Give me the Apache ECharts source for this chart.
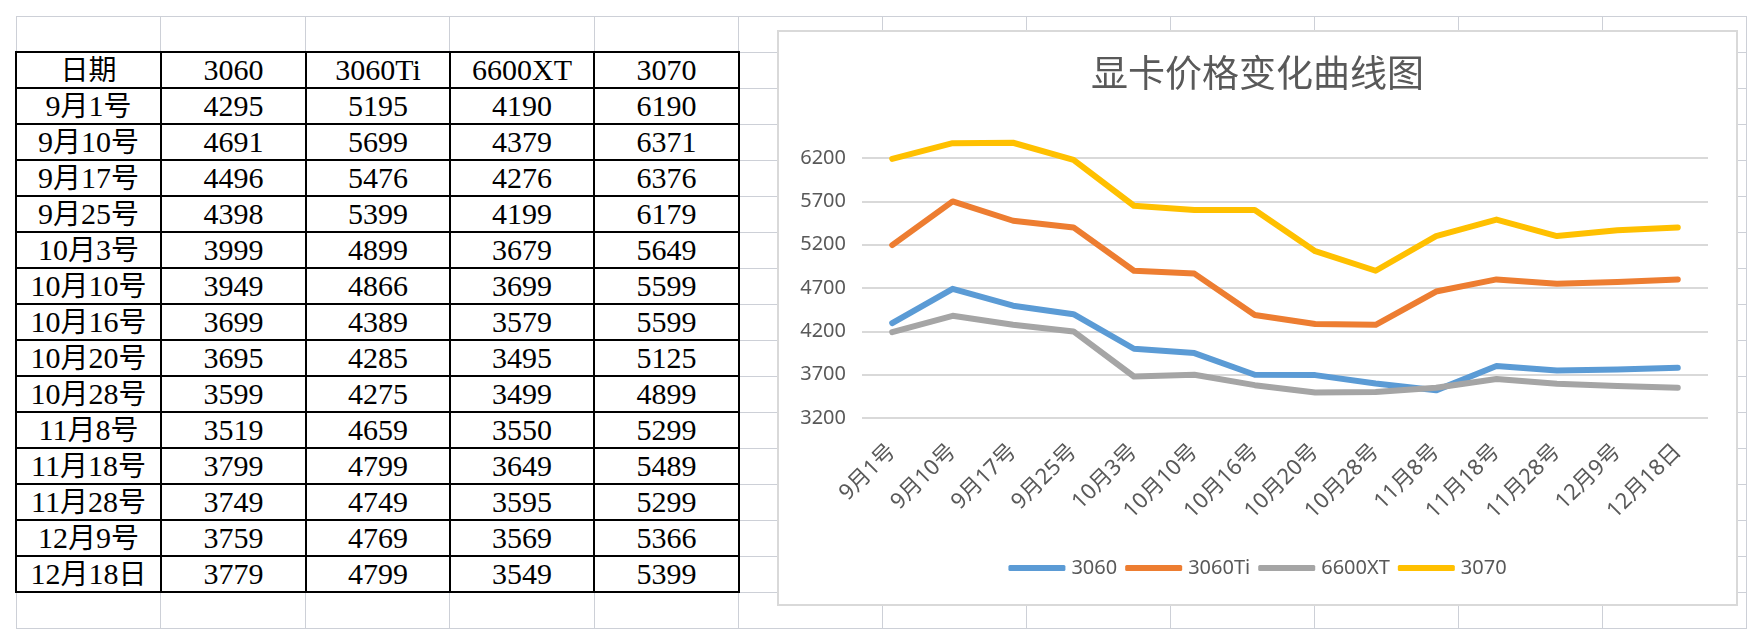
<!DOCTYPE html>
<html>
<head>
<meta charset="utf-8">
<title>显卡价格变化曲线图</title>
<script src="https://cdn.jsdelivr.net/npm/echarts@6/dist/echarts.min.js"></script>
<style>
    html, body { margin: 0; padding: 0; background: #fff; }
    body { width: 1762px; height: 644px; position: relative; overflow: hidden; }
    .gl { position: absolute; background: #cdd0d7; }
    #sheet { position: absolute; left: 15px; top: 51px; border-collapse: collapse; table-layout: fixed; background: #fff; }
    #sheet td { border: 2px solid #000; height: 34px; padding: 0; text-align: center; vertical-align: middle; }
    #sheet td div { height: 34px; line-height: 34px; overflow: hidden; white-space: nowrap; color: #000;
        font-family: "Liberation Serif", "Noto Sans CJK SC", serif; font-size: 30px; }
    #sheet td .cjk { font-family: "Noto Sans CJK SC"; font-size: 28px; line-height: 1; }
    #chart-box { position: absolute; left: 777px; top: 30px; width: 961px; height: 576px; box-sizing: border-box;
        border: 2px solid #d9d9d9; background: #fff; }
    #chart { position: absolute; left: 777px; top: 30px; width: 961px; height: 576px; }
</style>
</head>
<body>
<div id="grid-lines"></div>
<table id="sheet"></table>
<div id="chart-box"></div>
<div id="chart"></div>
<script>
// 表格/图表数据
var dates = ['9月1号', '9月10号', '9月17号', '9月25号', '10月3号', '10月10号', '10月16号', '10月20号', '10月28号', '11月8号', '11月18号', '11月28号', '12月9号', '12月18日'];
var names = ['3060', '3060Ti', '6600XT', '3070'];
var price3060 = [4295, 4691, 4496, 4398, 3999, 3949, 3699, 3695, 3599, 3519, 3799, 3749, 3759, 3779];
var price3060Ti = [5195, 5699, 5476, 5399, 4899, 4866, 4389, 4285, 4275, 4659, 4799, 4749, 4769, 4799];
var price6600XT = [4190, 4379, 4276, 4199, 3679, 3699, 3579, 3495, 3499, 3550, 3649, 3595, 3569, 3549];
var price3070 = [6190, 6371, 6376, 6179, 5649, 5599, 5599, 5125, 4899, 5299, 5489, 5299, 5366, 5399];
var headerLabel = '日期';
var chartTitle = '显卡价格变化曲线图';
var yTicks = [3200, 3700, 4200, 4700, 5200, 5700, 6200];

var colors = ['#5b9bd5', '#ed7d31', '#a5a5a5', '#ffc000'];

var priceChart = {
    init: function () {
        this.drawSheetGrid();
        this.drawTable();
        this.render();
    },
    // 表格背景网格线
    drawSheetGrid: function () {
        var box = document.getElementById('grid-lines');
        var colX = [16, 160, 305, 449, 594, 738, 882, 1026, 1170, 1314, 1458, 1602, 1746];
        var html = '';
        for (var r = 0; r <= 17; r++) {
            html += '<div class="gl" style="left:16px;top:' + (16 + r * 36) + 'px;width:1731px;height:1px"></div>';
        }
        for (var c = 0; c < colX.length; c++) {
            html += '<div class="gl" style="left:' + colX[c] + 'px;top:16px;width:1px;height:613px"></div>';
        }
        box.innerHTML = html;
    },
    drawTable: function () {
        var cell = function (s) {
            return '<td><div>' + String(s).replace(/([\u4e00-\u9fa5])/g, '<span class="cjk">$1</span>') + '</div></td>';
        };
        var widths = [145, 145, 144, 144, 145];
        var html = '<colgroup>';
        for (var w = 0; w < widths.length; w++) {
            html += '<col style="width:' + widths[w] + 'px">';
        }
        html += '</colgroup><tr>' + cell(headerLabel);
        for (var n = 0; n < names.length; n++) {
            html += cell(names[n]);
        }
        html += '</tr>';
        var cols = [price3060, price3060Ti, price6600XT, price3070];
        for (var i = 0; i < dates.length; i++) {
            html += '<tr>' + cell(dates[i]);
            for (var k = 0; k < cols.length; k++) {
                html += cell(cols[k][i]);
            }
            html += '</tr>';
        }
        document.getElementById('sheet').innerHTML = html;
    },
    render: function () {
        var myChart = echarts.init(document.getElementById('chart'));
        var labelFont = '"Noto Sans", "Noto Sans CJK SC", sans-serif';
        var seriesData = [price3060, price3060Ti, price6600XT, price3070];
        var series = [];
        for (var i = 0; i < names.length; i++) {
            series.push({
                name: names[i],
                type: 'line',
                data: seriesData[i],
                symbol: 'none',
                clip: false,
                lineStyle: {
                    width: 6,
                    color: colors[i],
                    cap: 'round',
                    join: 'round'
                },
                itemStyle: { color: colors[i] }
            });
        }
        var option = {
            animation: false,
            color: colors,
            title: {
                text: chartTitle,
                left: 'center',
                top: 19,
                textStyle: {
                    fontFamily: '"Noto Sans CJK SC", sans-serif',
                    fontSize: 37,
                    fontWeight: 'normal',
                    color: '#595959'
                }
            },
            legend: {
                data: names,
                left: 'center',
                top: 528,
                padding: 0,
                icon: 'roundRect',
                itemWidth: 57,
                itemHeight: 6,
                itemGap: 8,
                textStyle: {
                    fontFamily: labelFont,
                    fontSize: 20,
                    color: '#595959',
                    padding: [0, 0, 0, 1]
                }
            },
            grid: {
                left: 85,
                right: 30,
                top: 102,
                bottom: 188,
                containLabel: false,
                outerBoundsMode: 'none'
            },
            xAxis: {
                type: 'category',
                data: dates,
                boundaryGap: true,
                axisLine: { show: false },
                axisTick: { show: false },
                splitLine: { show: false },
                axisLabel: {
                    rotate: 45,
                    interval: 0,
                    margin: 30,
                    fontFamily: labelFont,
                    fontSize: 22,
                    color: '#595959'
                }
            },
            yAxis: {
                type: 'value',
                min: yTicks[0],
                max: 6500,
                interval: yTicks[1] - yTicks[0],
                axisLine: { show: false },
                axisTick: { show: false },
                axisLabel: {
                    margin: 16,
                    showMaxLabel: false,
                    formatter: function (v) { return String(v); },
                    fontFamily: labelFont,
                    fontSize: 20,
                    color: '#595959'
                },
                splitLine: {
                    show: true,
                    showMaxLine: false,
                    lineStyle: { color: '#d9d9d9', width: 2 }
                }
            },
            series: series
        };
        myChart.setOption(option);
        this.myChart = myChart;
    }
};

priceChart.init();
</script>
</body>
</html>
